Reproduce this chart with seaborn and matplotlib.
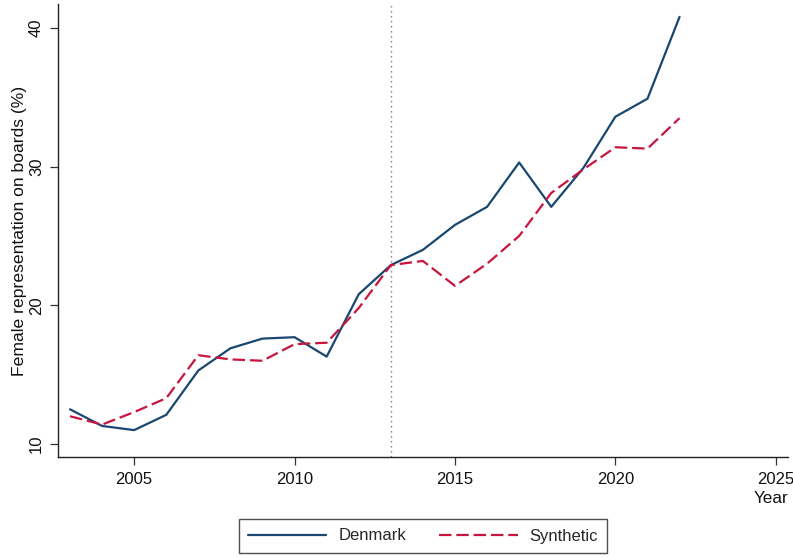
import matplotlib
matplotlib.use("Agg")
import matplotlib.pyplot as plt
import seaborn as sns
import pandas as pd

years = list(range(2003, 2023))
denmark = [12.5, 11.3, 11.0, 12.1, 15.3, 16.9, 17.6, 17.7, 16.3, 20.8,
           22.9, 24.0, 25.8, 27.1, 30.3, 27.1, 29.9, 33.6, 34.9, 40.8]
synthetic = [12.0, 11.4, 12.3, 13.3, 16.4, 16.1, 16.0, 17.2, 17.3, 19.8,
             22.9, 23.2, 21.4, 23.0, 25.0, 28.1, 29.8, 31.4, 31.3, 33.5]
treatment_year = 2013
x_ticks = [2005, 2010, 2015, 2020, 2025]
y_ticks = [10, 20, 30, 40]

df = pd.DataFrame({"Year": years, "Denmark": denmark, "Synthetic": synthetic})

sns.set_theme(style="white")
plt.rcParams["font.family"] = ["Liberation Sans", "DejaVu Sans"]

W, H = 793, 557
fig = plt.figure(figsize=(W / 100, H / 100), dpi=100)
left, right, top, bottom = 57.5, 788, 4, 457
ax = fig.add_axes([left / W, 1 - bottom / H, (right - left) / W, (bottom - top) / H])

navy = "#1a476f"
red = "#c8153f"

sns.lineplot(data=df, x="Year", y="Denmark", ax=ax, color=navy, lw=1.6,
             label="Denmark", legend=False)
sns.lineplot(data=df, x="Year", y="Synthetic", ax=ax, color=red, lw=1.6,
             dashes=False, label="Synthetic", legend=False)
ax.lines[1].set_dashes([5.6, 2.2])

ax.axvline(treatment_year, color="#7a7a7a", lw=1.0, ls=(0, (1, 2.6)))

ax.set_xlim(2002.61, 2025.38)
ax.set_ylim(9.06, 41.73)
ax.set_xticks(x_ticks)
ax.set_yticks(y_ticks)

for s in ["top", "right"]:
    ax.spines[s].set_visible(False)
for s in ["left", "bottom"]:
    ax.spines[s].set_color("#222222")
    ax.spines[s].set_linewidth(1.0)

ax.tick_params(axis="both", which="major", length=5.8, width=0.9, color="#333333",
               labelsize=12, labelcolor="#111111", direction="out",
               bottom=True, left=True)
ax.tick_params(axis="x", pad=5.0)
ax.tick_params(axis="y", pad=4.0)
for lab in ax.get_yticklabels():
    lab.set_rotation(90)
    lab.set_va("center")

ax.set_ylabel("Female representation on boards (%)", fontsize=12.6, color="#111111",
              labelpad=1)
ax.set_xlabel("Year", fontsize=12.3, color="#111111", loc="right", labelpad=3)

handles = ax.lines[:2]
leg = fig.legend(handles, ["Denmark", "Synthetic"], loc="center",
                 bbox_to_anchor=(423 / W, 1 - 536 / H), ncol=2, frameon=True,
                 fancybox=False, fontsize=12, handlelength=4.7,
                 columnspacing=2.0, handletextpad=0.72, borderpad=0.55)
leg.get_frame().set_edgecolor("#222222")
leg.get_frame().set_linewidth(1.0)

fig.savefig("out.png", dpi=100)
